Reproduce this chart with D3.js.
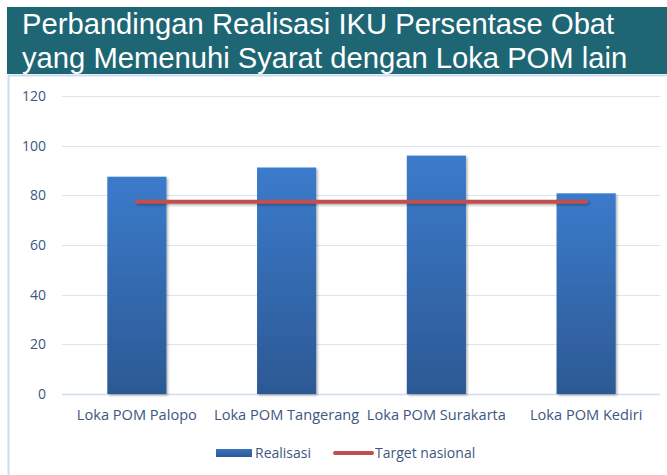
<!DOCTYPE html>
<html>
<head>
<meta charset="utf-8">
<script src="https://cdn.jsdelivr.net/npm/d3@7"></script>
<style>
  html, body { margin: 0; padding: 0; background: #fff; }
  svg { display: block; }
  .tick-label { font-family: "Open Sans", sans-serif; font-size: 14px; fill: #3d5780; }
  .cat-label { font-size: 14.6px; }
  .title { font-family: "Liberation Sans", Arial, sans-serif; font-size: 29.2px; fill: #fff; }
</style>
</head>
<body>
<svg id="chart" width="667" height="475"></svg>
<script>
// Data
const categories = ['Loka POM Palopo', 'Loka POM Tangerang', 'Loka POM Surakarta', 'Loka POM Kediri'];
const realisasi = [87.5, 91.2, 96.0, 80.8];
const target = [77.4, 77.4, 77.4, 77.4];
const yTicks = [0, 20, 40, 60, 80, 100, 120];
const titleLines = ['Perbandingan Realisasi IKU Persentase Obat', 'yang Memenuhi Syarat dengan Loka POM lain'];
const legendItems = ['Realisasi', 'Target nasional'];

const svg = d3.select('#chart');

// Frame + title band
svg.append('rect')
  .attr('x', 7).attr('y', 7).attr('width', 660).attr('height', 67)
  .attr('fill', '#1f6674');
svg.append('line')
  .attr('x1', 8).attr('x2', 667).attr('y1', 75.5).attr('y2', 75.5)
  .attr('stroke', '#c9dcf1').attr('stroke-width', 2);
svg.append('line')
  .attr('x1', 8.5).attr('x2', 8.5).attr('y1', 75).attr('y2', 475)
  .attr('stroke', '#c9dcf1').attr('stroke-width', 2);

svg.selectAll('.title')
  .data(titleLines)
  .enter().append('text')
  .attr('class', 'title')
  .attr('x', 22)
  .attr('y', (d, i) => 34 + i * 34)
  .text((d) => d);

// Scales
const x = d3.scaleBand()
  .domain(categories)
  .range([62, 661])
  .paddingInner(0.605)
  .paddingOuter(0.3025);

const y = d3.scaleLinear()
  .domain([0, 120])
  .range([394, 96]);

// Gradient + shadow
const defs = svg.append('defs');
const grad = defs.append('linearGradient')
  .attr('id', 'barGrad')
  .attr('x1', 0).attr('y1', 0).attr('x2', 0).attr('y2', 1);
grad.append('stop').attr('offset', '0%').attr('stop-color', '#3b7bcb');
grad.append('stop').attr('offset', '100%').attr('stop-color', '#2c5994');

const legendGrad = defs.append('linearGradient')
  .attr('id', 'legendGrad')
  .attr('x1', 0).attr('y1', 0).attr('x2', 0).attr('y2', 1);
legendGrad.append('stop').attr('offset', '0%').attr('stop-color', '#3873be');
legendGrad.append('stop').attr('offset', '100%').attr('stop-color', '#2c5994');

const shadow = defs.append('filter')
  .attr('id', 'shadow')
  .attr('filterUnits', 'userSpaceOnUse')
  .attr('x', 0).attr('y', 0).attr('width', 667).attr('height', 475);
shadow.append('feDropShadow')
  .attr('dx', 1.5).attr('dy', 1.5).attr('stdDeviation', 1.2)
  .attr('flood-color', '#000').attr('flood-opacity', 0.3);

// Gridlines
svg.append('g')
  .selectAll('line')
  .data(yTicks)
  .enter().append('line')
  .attr('x1', 62).attr('x2', 660)
  .attr('y1', (d) => Math.round(y(d)) + 0.5)
  .attr('y2', (d) => Math.round(y(d)) + 0.5)
  .attr('stroke', (d) => (d === 0 ? '#d0def0' : '#dbe5f2'))
  .attr('stroke-width', (d) => (d === 0 ? 1.5 : 1.2));

// Y axis labels
svg.append('g')
  .selectAll('text')
  .data(yTicks)
  .enter().append('text')
  .attr('class', 'tick-label')
  .attr('x', 46)
  .attr('y', (d) => y(d))
  .attr('dy', '0.35em')
  .attr('text-anchor', 'end')
  .text((d) => d);

// Bars
svg.append('g')
  .selectAll('rect')
  .data(realisasi)
  .enter().append('rect')
  .attr('x', (d, i) => x(categories[i]))
  .attr('y', (d) => y(d))
  .attr('width', x.bandwidth())
  .attr('height', (d) => y(0) - y(d))
  .attr('fill', 'url(#barGrad)')
  .attr('filter', 'url(#shadow)');

// Target line
const line = d3.line()
  .x((d, i) => x(categories[i]) + x.bandwidth() / 2)
  .y((d) => y(d));
svg.append('path')
  .datum(target)
  .attr('d', line)
  .attr('fill', 'none')
  .attr('stroke', '#c0504d')
  .attr('stroke-width', 4)
  .attr('stroke-linecap', 'round')
  .attr('filter', 'url(#shadow)');

// Category labels
svg.append('g')
  .selectAll('text')
  .data(categories)
  .enter().append('text')
  .attr('class', 'tick-label cat-label')
  .attr('x', (d) => x(d) + x.bandwidth() / 2)
  .attr('y', 420)
  .attr('text-anchor', 'middle')
  .text((d) => d);

// Legend
const legend = svg.append('g');
legend.append('rect')
  .attr('x', 216).attr('y', 449).attr('width', 36).attr('height', 8)
  .attr('fill', 'url(#legendGrad)');
legend.append('text')
  .attr('class', 'tick-label')
  .attr('x', 255).attr('y', 453).attr('dy', '0.35em')
  .text(legendItems[0]);
legend.append('line')
  .attr('x1', 335).attr('x2', 372).attr('y1', 453).attr('y2', 453)
  .attr('stroke', '#c0504d').attr('stroke-width', 4)
  .attr('stroke-linecap', 'round');
legend.append('text')
  .attr('class', 'tick-label')
  .attr('x', 375).attr('y', 453).attr('dy', '0.35em')
  .text(legendItems[1]);
</script>
</body>
</html>
